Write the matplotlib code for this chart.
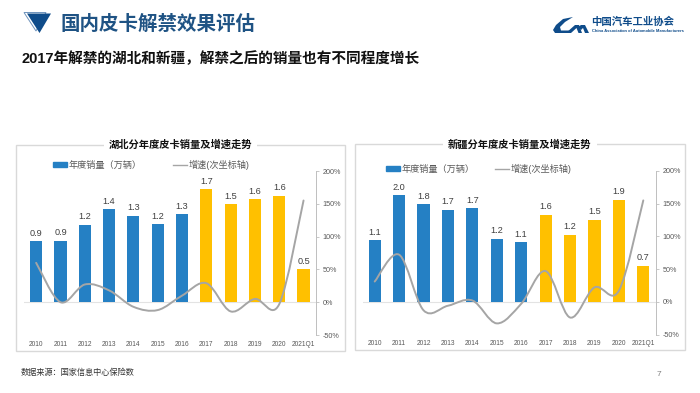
import matplotlib
matplotlib.use('Agg')
import matplotlib.pyplot as plt
import matplotlib.patches as mpatches
import matplotlib.lines as lines
from matplotlib.path import Path

plt.rcParams['font.family'] = ['Liberation Sans', 'Noto Sans CJK SC', 'DejaVu Sans']

YEARS = ['2010', '2011', '2012', '2013', '2014', '2015', '2016', '2017', '2018', '2019', '2020', '2021Q1']
HUBEI_SALES = [0.93, 0.94, 1.18, 1.42, 1.32, 1.19, 1.34, 1.72, 1.49, 1.57, 1.62, 0.50]
HUBEI_GROWTH = [60, 0, 27, 18, -7, -12, 10, 29, -14, 5, -3, 155]
XINJIANG_SALES = [1.13, 1.96, 1.79, 1.69, 1.72, 1.16, 1.09, 1.60, 1.23, 1.51, 1.87, 0.66]
XINJIANG_GROWTH = [31, 72, -13, -6, 2, -33, -3, 47, -24, 22, 17, 155]
GROWTH_TICKS = [-50, 0, 50, 100, 150, 200]

BLUE = '#2580C4'
YELLOW = '#FFC000'
GRAY_LINE = '#A5A5A5'
TEXT_GRAY = '#595959'
NAVY = '#0F4C8A'
W, H = 700, 393

fig = plt.figure(figsize=(W / 100, H / 100), dpi=100)


# everything on this slide was measured in pixels, so convert to figure coords
def fx(x):
    return x / W


def fy(y):
    return 1 - y / H


def add_axes_px(x0, y0, x1, y1):
    return fig.add_axes([fx(x0), fy(y1), (x1 - x0) / W, (y1 - y0) / H])


def px_polygon(points, **kwargs):
    fig.add_artist(mpatches.Polygon([(fx(x), fy(y)) for x, y in points], closed=True,
                                    transform=fig.transFigure, **kwargs))


def smooth_path(xs, ys):
    # same kind of smoothed line as the office chart: bezier through every point
    verts = [(xs[0], ys[0])]
    codes = [Path.MOVETO]
    n = len(xs)
    for i in range(n - 1):
        a = max(i - 1, 0)
        b = min(i + 2, n - 1)
        verts.append((xs[i] + (xs[i + 1] - xs[a]) / 6, ys[i] + (ys[i + 1] - ys[a]) / 6))
        verts.append((xs[i + 1] - (xs[b] - xs[i]) / 6, ys[i + 1] - (ys[b] - ys[i]) / 6))
        verts.append((xs[i + 1], ys[i + 1]))
        codes += [Path.CURVE4, Path.CURVE4, Path.CURVE4]
    return Path(verts, codes)


def draw_panel(box, area, sales, growth, ymax, ymin, title, legend_xy, legend_gap):
    # frame with the title sitting in a gap of its top edge
    fig.add_artist(mpatches.Rectangle(
        (fx(box[0]), fy(box[3])), (box[2] - box[0]) / W, (box[3] - box[1]) / H,
        transform=fig.transFigure, fill=False, edgecolor='#D9D9D9', linewidth=1))
    fig.text(fx((box[0] + box[2]) / 2 + 0.5), fy(box[1]), title, ha='center', va='center',
             fontsize=7.4, fontweight='bold', color='#111111', zorder=5,
             bbox=dict(facecolor='white', edgecolor='none', pad=3.5))

    ax = add_axes_px(*area)
    x = list(range(len(YEARS)))
    colors = [YELLOW if year in YEARS[7:] else BLUE for year in YEARS]
    bars = ax.bar(x, sales, width=0.5, color=colors)
    ax.bar_label(bars, fmt='%.1f', padding=2.5, fontsize=6.6, color='#404040')
    ax.set_xlim(-0.5, len(YEARS) - 0.5)
    ax.set_ylim(ymin, ymax)
    ax.axhline(0, color='#E3E3E3', linewidth=0.8, zorder=0)
    ax.set_yticks([])
    ax.set_xticks(x, YEARS, fontsize=4.8, color=TEXT_GRAY)
    ax.tick_params(axis='x', length=0, pad=4)
    for side in ['top', 'left', 'bottom', 'right']:
        ax.spines[side].set_visible(False)
    ax.patch.set_alpha(0)

    ax2 = ax.twinx()
    ax2.set_ylim(-50, 200)
    ax2.set_yticks(GROWTH_TICKS, [f'{t}%' for t in GROWTH_TICKS], fontsize=5.2, color=TEXT_GRAY)
    ax2.tick_params(axis='y', length=2, width=0.6, color='#BFBFBF', pad=3)
    for side in ['top', 'left', 'bottom']:
        ax2.spines[side].set_visible(False)
    ax2.spines['right'].set_color('#BFBFBF')
    ax2.spines['right'].set_linewidth(0.7)
    ax2.add_patch(mpatches.PathPatch(smooth_path(x, growth), fill=False, edgecolor=GRAY_LINE,
                                     linewidth=1.4, capstyle='round'))

    handles = [
        mpatches.Patch(color=BLUE, label='年度销量（万辆）'),
        lines.Line2D([0], [0], color=GRAY_LINE, linewidth=1, label='增速(次坐标轴)'),
    ]
    fig.legend(handles=handles, loc='center left', bbox_to_anchor=(fx(legend_xy[0]), fy(legend_xy[1])),
               ncol=2, frameon=False, fontsize=6.6, labelcolor=TEXT_GRAY, handlelength=1.55,
               handleheight=0.45, handletextpad=0.15, columnspacing=legend_gap, borderaxespad=0,
               borderpad=0)


# slide header
px_polygon([(24, 12.5), (46, 12.5), (36, 31)], fill=False, edgecolor='#6E93BC', linewidth=0.7)
px_polygon([(27, 13.5), (51, 13.5), (39.5, 33)], facecolor=NAVY, edgecolor='none')
fig.text(fx(61), fy(24), '国内皮卡解禁效果评估', fontsize=14, fontweight='bold', color='#1F5384',
         ha='left', va='center')
fig.text(fx(21), fy(58.5), '2017年解禁的湖北和新疆，解禁之后的销量也有不同程度增长', fontsize=10.55,
         fontweight='bold', color='#111111', ha='left', va='center')

# association logo, a rough trace of the swoosh C and the m
px_polygon([(573, 17), (563, 19), (556, 25), (553, 30), (555, 33), (568, 33), (570, 30.5),
            (561, 30.5), (560, 27), (565, 22)], facecolor=NAVY, edgecolor='none')
px_polygon([(566, 33), (575, 25), (579, 25), (582, 33), (578.5, 33), (576.5, 28), (571, 33)],
           facecolor=NAVY, edgecolor='none')
px_polygon([(578, 27), (581, 25), (585, 25), (589, 33), (585, 33), (583, 28), (581, 30)],
           facecolor=NAVY, edgecolor='none')
fig.text(fx(591.5), fy(21.5), '中国汽车工业协会', fontsize=7.5, fontweight='bold', color=NAVY,
         ha='left', va='center')
fig.text(fx(591.5), fy(31), 'China Association of Automobile Manufacturers', fontsize=2.85,
         fontweight='bold', color=NAVY, ha='left', va='center')

draw_panel((16, 144.5, 344.5, 351), (24, 171, 315.7, 335), HUBEI_SALES, HUBEI_GROWTH,
           2.0, -0.5, '湖北分年度皮卡销量及增速走势', (53, 164.5), 3.4)
draw_panel((354.5, 144.5, 684.5, 350), (362.5, 171, 655.5, 334.5), XINJIANG_SALES, XINJIANG_GROWTH,
           2.4, -0.6, '新疆分年度皮卡销量及增速走势', (386, 169), 2.2)

fig.text(fx(21), fy(373), '数据来源：国家信息中心保险数', fontsize=5.9, color='#333333', ha='left', va='center')
fig.text(fx(659), fy(375), '7', fontsize=6, color='#7F7F7F', ha='center', va='center')

fig.savefig('out.png', dpi=100)
